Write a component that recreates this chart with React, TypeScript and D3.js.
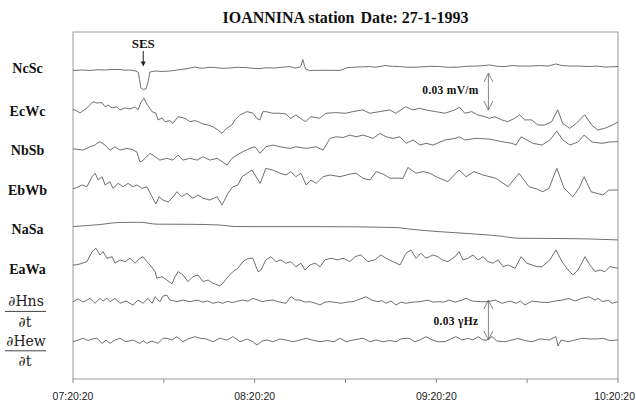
import React from 'react';
import * as d3 from 'd3';

type Pt = [number, number]; // [minutes after 07:20:20, deviation]

const trackNames = ['NcSc', 'EcWc', 'NbSb', 'EbWb', 'NaSa', 'EaWa', 'dHns', 'dHew'];
const electricLabels = ['NcSc', 'EcWc', 'NbSb', 'EbWb', 'NaSa', 'EaWa'];
const magneticLabels = ['∂Hns', '∂Hew'];
const tickMinutes = [0, 30, 60, 90, 120, 150, 180];
const labelMinutes = [0, 60, 120, 180];

// electric channels in µV/m, magnetic in 0.001 γHz
const ncsc: Pt[] = [[0,-0.4],[3,0],[5.6,-0.4],[8,0.2],[10.6,0],[13,0.4],[15.5,0.4],[17,-0.2],[18.8,0],[20.8,-0.8],[21.6,-2],[22,-8],[22.4,-14.5],[23,-15.6],[24.1,-15.4],[24.8,-9.7],[25.4,-1.6],[27.1,-0.8],[29.5,-1.2],[32,-0.8],[34.5,0],[37,0.8],[40.3,2.4],[42,1.5],[43.6,1.6],[45,2.2],[46.9,2],[49,1.4],[51.8,1.6],[54,2.2],[56.8,2],[59,1.4],[61.7,1.2],[64,1.8],[66.7,1.6],[68.5,2.2],[70,2.4],[71.6,2.8],[73.3,1.6],[74.9,2.4],[75.4,4],[75.9,8.5],[76.4,4],[76.9,0.8],[78.2,-0.4],[83,-0.2],[88.1,-0.4],[90.8,2],[94,2.4],[98,2.8],[100,2.2],[103,3.6],[105.5,3],[107.9,2.8],[111,2.2],[114.5,2.4],[118,3],[121.1,2.8],[124,2.2],[127.7,2.4],[130,3],[132.7,3.2],[135,3.4],[137.6,4.1],[140,3],[142.6,2.8],[145,3.6],[147.5,3.2],[151,3.2],[154.1,3.6],[157,3.2],[159.4,4.9],[161.5,3.6],[164,3.2],[167,3.2],[170.6,2.8],[173,3.2],[175.6,2.4],[178,2.6],[180,2.8]];

const ecwc: Pt[] = [[0,-1],[0.7,-1.1],[2.3,-3.6],[4.6,0.5],[6.6,5.6],[7.9,4.5],[9.6,4.8],[10.6,1.5],[11.6,2.9],[12.9,0.5],[14.5,1.5],[15.5,-1.1],[17.2,0.5],[18.8,-0.3],[20.5,1.3],[21.5,-1.1],[22.4,4.8],[23.4,8.4],[24.4,3.7],[26.1,-2.5],[27.4,-3.8],[28.1,-9.2],[29.4,-7.6],[30.4,-10.6],[32,-9.8],[33,-11.9],[34.7,-6.6],[37,-7.9],[38.6,-10.6],[40.3,-9.8],[41.3,-10.6],[42.9,-12.5],[44.6,-13.3],[46.2,-14.7],[47.9,-17.4],[49.2,-20],[50.8,-16],[52.5,-13.3],[53.5,-9.2],[55.1,-5.2],[57.4,-2.5],[59.4,-3.6],[60.7,-7.9],[61.7,-9.2],[62.7,-2.5],[63.7,-2.5],[66,-3.8],[68.3,-3.8],[70.3,-4.4],[71.9,-7.9],[73.6,-5.2],[75.9,-9.2],[76.9,-10.6],[78.5,-6.6],[81.5,-7.9],[83.5,-3.8],[86.8,-3.3],[90.1,-3.8],[92.4,-2.5],[95.7,-1.1],[98,-3.8],[101.3,-2.5],[104.6,-1.1],[106.6,-3.8],[109.9,1.5],[112.2,-1.1],[114.5,0.2],[116.5,-1.1],[119.8,-2.5],[122.8,-3.8],[126.1,-1.1],[127.7,1.1],[129.4,-3.8],[131.7,-2.5],[133.7,-5.2],[136,-6.6],[137.6,-7.9],[139.3,-6.6],[141.6,-9.2],[143.6,-10.6],[145.9,-7.9],[147.5,-5.2],[149.2,-9.2],[151.5,-9.2],[153.5,-13.3],[155.8,-13.3],[158.1,-10.6],[160.1,-1],[161.7,-11.9],[164,-16],[166.3,-11.9],[169,-5],[171.3,-13.3],[173.3,-17.4],[175.6,-16],[178.2,-13.3],[180,-10.9]];

const nbsb: Pt[] = [[0,-1.5],[0.7,-1.5],[3.3,-2.4],[5.6,0.3],[7.3,1.7],[7.9,3.1],[8.9,4.4],[10.6,1.7],[12.2,-2.4],[13.9,0.3],[15.5,-2.4],[17.8,-1],[19.5,-1.8],[21.1,-4],[22.1,-11.8],[22.8,-11.3],[23.8,-9.1],[25.4,-5],[27.1,-7.8],[28.7,-10.5],[31,-9.1],[33,-10.5],[34.7,-6.4],[36.3,-10.5],[38.6,-9.1],[41,-10.5],[42.9,-7.8],[45.2,-10.5],[47.6,-9.1],[49.5,-12.1],[50.9,-14.5],[52.5,-9.1],[54.2,-6.4],[56.1,-3.7],[58.5,-1],[60.1,0.3],[61.8,-5],[63.7,0.3],[66,1.7],[68.4,0.3],[71.7,-1],[73.6,0.3],[77,-1],[80.3,0.3],[82.6,-2.4],[84.9,7.1],[86.9,8.4],[89.2,7.8],[91.5,9.8],[93.5,8.4],[95.8,9.8],[99.1,7.1],[101.4,11.2],[103.4,8.4],[105.7,7.1],[108,8.4],[110,3.1],[112.3,5.8],[114.6,1.7],[116.6,3.1],[118.9,1.7],[122.9,5.8],[126.2,7.1],[127.5,8.4],[129.5,5.8],[132.8,7.1],[137.4,6.6],[141.7,4.4],[145,3.1],[146.3,1.7],[148,8.4],[149.9,5.8],[151.9,3.1],[154.9,1.7],[157.5,5.8],[159.8,13],[161.8,5.8],[164.1,1.7],[166.8,4.2],[168.8,9.8],[171.4,4.2],[174.7,3.1],[177.3,4.2],[180,4.4]];

const ebwb: Pt[] = [[0,-2.1],[0.7,-2.1],[3,0.6],[4.6,-0.8],[6.3,7.3],[7.3,10.1],[8.3,4.6],[9.6,7.3],[10.6,0.6],[12.2,3.2],[13.2,-2.1],[14.9,1.9],[16.5,-0.8],[18.2,1.9],[19.8,-0.8],[21.1,0.6],[22.8,-2.1],[24.4,-0.8],[26.1,-8.9],[27.4,-14.8],[28.4,-8.9],[29.7,-11.6],[31.4,-13.2],[33,-9.2],[34.3,-4.9],[36,-8.9],[37.6,-6.2],[39.6,-10.2],[41.3,-7.5],[42.9,-10.2],[45.2,-11.6],[47.6,-8.9],[49.2,-15.7],[51.2,-6.2],[52.8,-0.8],[54.5,0.6],[55.8,7.3],[57.5,10.1],[59.1,12.7],[60.1,8.7],[61.8,1.9],[63.7,14.1],[66,12.7],[68.4,10.1],[70.3,8.7],[72,11.4],[73.6,7.3],[75.3,10.1],[77,0.6],[78.6,4.6],[80.3,1.9],[82.6,7.3],[84.9,8.7],[88.2,7.3],[91.5,9.5],[93.5,10.1],[95.8,6],[98.1,4.6],[100.1,11.4],[102.4,9.5],[104.7,6],[106.7,6.2],[109,6],[110.6,14.8],[113.3,10.1],[115.6,11.4],[117.9,10.1],[119.9,7.3],[123.8,3.2],[127.5,12.7],[129.8,7.3],[132.4,11.4],[135.4,8.7],[139.7,6],[143.7,-0.8],[147.3,10.1],[150.6,-0.8],[153.2,-2.7],[155.2,-4.9],[157.2,-2.1],[159.8,14.1],[162.2,-2.1],[165.1,-8.9],[167.1,-2.1],[168.8,7.3],[171.1,-4.9],[175,-7.5],[177,-3.5],[180,-3.5]];

const nasa: Pt[] = [[0,-1.8],[8.9,-0.2],[15.5,1.5],[22.1,1.6],[27.7,0.1],[38.6,0],[48.5,-0.6],[53.5,-1.8],[61.8,-1.9],[81.6,-1.9],[106.3,-2.6],[112.3,-4.2],[119.9,-5.8],[130.4,-7.5],[141,-9.5],[147,-11.3],[158.2,-11.5],[170.7,-11.9],[180,-12.7]];

const eawa: Pt[] = [[0,-1.7],[0.7,-1.7],[2.3,-0.9],[4.6,1],[6.3,9.1],[7.6,11.8],[8.9,6.4],[9.9,9.1],[11.2,3.7],[12.9,5],[13.9,-0.3],[15.5,2.4],[17.2,1],[18.8,3.7],[20.5,-0.3],[22.1,3.7],[23.1,5],[24.4,1],[25.4,-1.7],[27.1,-7.1],[27.7,-12.5],[29.4,-11.2],[31,-13.9],[32.7,-17],[33.7,-11.2],[34.7,-7.1],[36.3,-9.8],[38,-15.2],[39.6,-11.2],[41.3,-9.8],[42.9,-15.2],[44.6,-13.9],[46.2,-16.5],[48.5,-18.7],[49.5,-16.5],[51.2,-11.2],[52.8,-7.1],[54.5,-4.4],[56.1,1],[57.5,3.2],[58.5,3.7],[59.4,3.7],[61.1,-7.1],[62.1,-5.8],[63.7,2.4],[65.4,5],[67,1],[68.7,2.4],[70.3,-0.3],[72,1],[73.6,-3.1],[75.3,-0.3],[76.6,-5.8],[78.3,-1.7],[79.9,-0.3],[81.6,-3.1],[83.2,2.4],[85.2,3.7],[87.5,2.4],[89.2,3.7],[91.5,1],[93.1,5],[95.1,6.4],[97.4,1],[99.7,2.4],[101.7,6.4],[103.4,3.7],[105.7,1],[108,-1.7],[110,7.8],[111.6,10.5],[113.3,3.7],[114.9,7.8],[116.6,3.7],[118.9,6.4],[120.5,5],[121.9,2.4],[123.8,1],[126.2,5],[127.5,9.1],[128.8,2.4],[130.4,3.7],[132.1,6.4],[133.8,2.4],[135.4,5],[137.1,1],[138.7,-0.3],[140.4,2.4],[142,-3.1],[143.7,-1.7],[146,-4.4],[148,5],[149.9,-0.3],[151.6,-1.7],[153.2,-3.1],[154.9,-3.1],[157.5,2.4],[159.5,10.5],[161.5,1],[163.5,-5.8],[165.1,-9.8],[166.8,-5.8],[169.1,5],[170.7,-1.7],[172.4,-7.1],[174,-5.8],[175.7,-7.1],[177.3,-3.1],[180,-4.4]];

const dhns: Pt[] = [[0,-0.2],[1.7,1.8],[3.3,-0.5],[4.6,1],[5.6,2.3],[7.3,-1.4],[8.9,2.3],[9.9,0.3],[11.2,2.3],[12.2,-0.2],[13.9,2.3],[15.5,-1.4],[17.5,0.3],[19.8,-2.7],[21.5,1],[23.1,-1.4],[24.8,2.3],[26.1,-1.4],[27.1,3.5],[28.7,-0.2],[29.7,4],[31,4.8],[32,1],[33,0.7],[34.3,-0.2],[36.3,1],[38.6,-0.2],[41,1],[42.9,-0.5],[44.5,0.4],[46.2,-1.4],[48,-0.4],[49.5,-1.4],[51,0],[52.8,-0.8],[54.5,0.3],[56.1,1],[57.8,0.2],[59.4,2.3],[61.1,1],[62.7,-0.2],[64.1,0.7],[66,1],[68.4,-0.5],[70.3,-1.4],[72,3.5],[73.6,1],[75,1],[76.6,-0.5],[78.3,-0.2],[79.9,-1.2],[81.6,-2.7],[83.2,-0.5],[84.9,-0.2],[86.9,-0.8],[88.5,-1.4],[90.5,-0.5],[92.5,-0.2],[94.8,1.8],[96.8,3.5],[98.7,1],[100.7,-0.2],[102,0.6],[103.4,-1.4],[105,0.3],[106.7,-2.7],[108.3,-0.5],[110,-1.4],[112.3,-0.5],[114.6,-0.2],[117.2,1],[118.9,-0.5],[120.5,-0.2],[122.5,-0.5],[124.2,1],[126.2,-0.5],[128.5,1],[129.8,2.3],[131.8,0.3],[134.4,-0.2],[137.1,-0.2],[139.4,1],[141.7,-1.4],[144.3,0.3],[146.3,-1.4],[147.8,0.2],[149.3,-2.7],[151.6,0.3],[154.2,-0.5],[156.9,-0.8],[159.2,0.3],[161.5,1],[163.8,2.3],[165.8,0.3],[168.1,2.3],[170.4,3.5],[172.4,1],[173.4,2.3],[175,-0.2],[176.7,1],[178,-1.4],[180,-0.2]];

const dhew: Pt[] = [[0,-1.3],[1.7,0],[3.3,1.3],[5,-0.4],[6.6,0.8],[7.9,1.3],[9.6,-2.5],[10.9,0],[12.2,-2.5],[13.9,0],[15.5,1.3],[17.5,-1.3],[19.8,0],[22.1,-2.5],[23.2,-0.6],[24.4,-2.5],[26.1,-0.8],[28.1,-2.5],[29.7,1.3],[31,1.3],[32.7,0],[34.3,2.5],[36.3,-1.3],[38,0.8],[40.3,2.5],[41.9,1.3],[43.9,0.8],[46.2,-1.3],[48.5,1.3],[50.9,0],[52.8,2.5],[55.2,-1.3],[57.5,0.8],[59.4,-1.3],[60.8,-3.8],[62.4,-0.8],[64.1,0],[66,-1.3],[68.4,0.8],[70.3,0],[72.7,-1.3],[75,0],[77,1.3],[78.9,0],[81.6,-1.3],[83.9,-0.4],[86.2,-1.3],[88.2,1.3],[90.2,-1.3],[92.5,0],[95.8,1.3],[98.1,-1.3],[100.1,0],[102.4,-1.3],[104.7,-0.4],[106.7,-1.3],[108.3,0.8],[110,1.3],[111,1.3],[112.9,-1.3],[114.6,0],[116.6,2.5],[118.6,0],[120.5,-1.3],[122.9,-1.3],[124.8,0.8],[126.5,2.5],[128.5,0],[130.4,1.3],[132.1,0],[133.8,2.5],[135.4,0],[136.7,0],[138.4,2.5],[140,-0.8],[142.7,-1.3],[145,0],[147,1.1],[149.3,-0.4],[151.6,-1.3],[154.2,0.8],[157.2,0],[159.5,2.5],[160.2,-4.5],[161.2,0],[163.5,-1.3],[165.8,0],[168.1,1.3],[170.7,0.8],[173.1,0.8],[175,1.3],[177.3,-0.4],[180,0]];

const seriesByTrack: Pt[][] = [ncsc, ecwc, nbsb, ebwb, nasa, eawa, dhns, dhew];

const startTime = new Date(1993, 0, 27, 7, 20, 20);

export default function App() {
  const W = 636;
  const H = 401;
  const left = 73, right = 618, top = 32, bottom = 379;

  const x = d3.scaleLinear().domain([0, 180]).range([left, right]);
  const track = d3.scalePoint<string>().domain(trackNames).range([70, 340]);
  const labelY = d3.scalePoint<string>().domain(trackNames).range([76.6, 352.3]);
  const eScale = d3.scaleLinear().domain([0, 30]).range([0, -37]);
  const mScale = d3.scaleLinear().domain([0, 30]).range([0, -40]);
  const fmt = d3.timeFormat('%H:%M:%S');

  const paths = seriesByTrack.map((s, i) => {
    const base = track(trackNames[i]) as number;
    const ys = i >= 6 ? mScale : eScale;
    const line = d3
      .line<Pt>()
      .x((d) => x(d[0]))
      .y((d) => base + ys(d[1]))
      .curve(i === 4 ? d3.curveMonotoneX : d3.curveLinear);
    return line(s) || '';
  });

  const serif = "'Liberation Serif', 'Times New Roman', serif";
  const sesX = x(23.2);
  const barX = x(137.2);
  const eTop = (track('NcSc') as number) + 3;
  const eBot = eTop + Math.abs(eScale(30));
  const mTop = (track('dHns') as number) - 1.4;
  const mBot = mTop + Math.abs(mScale(30));

  const dblArrow = (cx: number, y0: number, y1: number) => (
    <g stroke="#666" strokeWidth={0.8} fill="none">
      <line x1={cx} y1={y0} x2={cx} y2={y1} />
      <polyline points={`${cx - 4.5},${y0 + 9} ${cx},${y0} ${cx + 4.5},${y0 + 9}`} />
      <polyline points={`${cx - 4.5},${y1 - 9} ${cx},${y1} ${cx + 4.5},${y1 - 9}`} />
    </g>
  );

  return (
    <svg
      width={W}
      height={H}
      viewBox={`0 0 ${W} ${H}`}
      style={{ position: 'absolute', left: 0, top: 0, background: '#fff' }}
    >
      <rect x={0} y={0} width={W} height={H} fill="#fff" />
      <text
        x={(left + right) / 2}
        y={23}
        textAnchor="middle"
        fontFamily={serif}
        fontWeight="bold"
        fontSize={16}
        fill="#111"
      >
        <tspan>IOANNINA station</tspan>
        <tspan dx={6}>Date: 27-1-1993</tspan>
      </text>

      <rect x={left} y={top} width={right - left} height={bottom - top} fill="none" stroke="#999" strokeWidth={1} />

      {tickMinutes.map((m) => (
        <line key={m} x1={x(m)} x2={x(m)} y1={bottom} y2={bottom + 4} stroke="#888" strokeWidth={1} />
      ))}
      {labelMinutes.map((m, i) => (
        <text
          key={m}
          x={i === labelMinutes.length - 1 ? W - 1 : x(m)}
          y={400}
          textAnchor={i === labelMinutes.length - 1 ? 'end' : 'middle'}
          fontFamily="'Liberation Sans', Arial, sans-serif"
          fontSize={10.5}
          fill="#222"
        >
          {fmt(new Date(startTime.getTime() + m * 60000))}
        </text>
      ))}

      {paths.map((p, i) => (
        <path key={i} d={p} fill="none" stroke="#4a4a4a" strokeWidth={0.8} strokeLinejoin="round" />
      ))}

      {electricLabels.map((name, i) => (
        <text
          key={name}
          x={27.5}
          y={(labelY(trackNames[i]) as number) - (i === 0 ? 4 : 0)}
          textAnchor="middle"
          fontFamily={serif}
          fontWeight="bold"
          fontSize={14}
          fill="#111"
        >
          {name}
        </text>
      ))}

      {magneticLabels.map((name, j) => {
        const ly = (labelY(trackNames[6 + j]) as number) - 1.5;
        return (
          <g key={name} fontFamily="'DejaVu Serif', serif" fontSize={14} fill="#222" textAnchor="middle">
            <text x={26} y={ly - 5}>{name}</text>
            <line x1={5} x2={46} y1={ly} y2={ly} stroke="#444" strokeWidth={1} />
            <text x={25} y={ly + 15.5}>∂t</text>
          </g>
        );
      })}

      <text x={sesX} y={48.3} textAnchor="middle" fontFamily={serif} fontWeight="bold" fontSize={13} fill="#111">
        SES
      </text>
      <line x1={sesX} x2={sesX} y1={51} y2={62} stroke="#222" strokeWidth={1} />
      <polygon points={`${sesX - 2.5},61.5 ${sesX + 2.5},61.5 ${sesX},66.5`} fill="#222" />

      <text x={478.7} y={93.5} textAnchor="end" fontFamily={serif} fontWeight="bold" fontSize={11.5} letterSpacing={0.3} fill="#111">
        0.03 mV/m
      </text>
      {dblArrow(barX, eTop, eBot)}

      <text x={478.3} y={325} textAnchor="end" fontFamily={serif} fontWeight="bold" fontSize={11.5} letterSpacing={0.3} fill="#111">
        0.03 γHz
      </text>
      {dblArrow(barX, mTop, mBot)}
    </svg>
  );
}
